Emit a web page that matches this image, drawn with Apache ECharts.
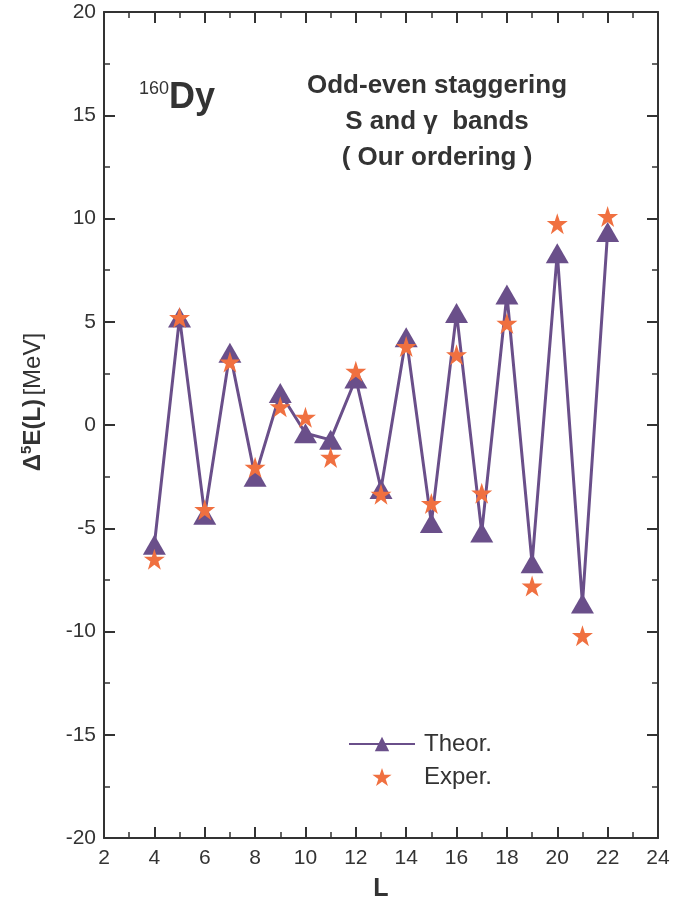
<!DOCTYPE html>
<html><head><meta charset="utf-8">
<script src="https://cdn.jsdelivr.net/npm/echarts@6/dist/echarts.min.js"></script>
<style>html,body{margin:0;padding:0;background:#fff}#c{width:689px;height:901px}</style>
</head><body><div id="c"></div>
<script>
const L = [4,5,6,7,8,9,10,11,12,13,14,15,16,17,18,19,20,21,22];
const theor = [-5.8,5.2,-4.35,3.5,-2.5,1.55,-0.4,-0.72,2.25,-3.1,4.25,-4.75,5.42,-5.2,6.32,-6.7,8.32,-8.65,9.35];
const exper = [-6.5,5.2,-4.1,3.05,-2.05,0.88,0.37,-1.57,2.6,-3.35,3.8,-3.8,3.4,-3.3,4.92,-7.8,9.75,-10.2,10.1];
const xTicks = [2,4,6,8,10,12,14,16,18,20,22,24];
const yTicks = [-20,-15,-10,-5,0,5,10,15,20];

const purple = '#6a4f8a', orange = '#f07040', axisCol = '#333';
const font = '"Liberation Sans", Arial, Helvetica, sans-serif';
const chart = echarts.init(document.getElementById('c'), null, {renderer:'canvas'});

function axisCommon(show){
  return {
    axisLine:{show:true,onZero:false,lineStyle:{color:axisCol,width:2}},
    axisTick:{show:true,inside:true,length:11,lineStyle:{color:axisCol,width:2}},
    minorTick:{show:true,splitNumber:2,length:6,lineStyle:{color:axisCol,width:1.5}},
    splitLine:{show:false},
    axisLabel:{show:show,color:'#333',fontSize:21,fontFamily:font}
  };
}
const xA = (pos,show)=>Object.assign({type:'value',position:pos,min:2,max:24,interval:2},axisCommon(show));
const yA = (pos,show)=>Object.assign({type:'value',position:pos,min:-20,max:20,interval:5},axisCommon(show));

const x0 = xA('bottom',true);
x0.axisLabel.margin = 10;
x0.name = 'L'; x0.nameLocation='middle'; x0.nameGap = 39;
x0.nameTextStyle = {fontSize:25,fontWeight:'bold',color:'#333',fontFamily:font};
const y0 = yA('left',true);
y0.axisLabel.margin = 8;

chart.setOption({
  animation:false,
  grid:{left:104,right:31,top:12,bottom:63,containLabel:false,outerBoundsMode:'none'},
  xAxis:[x0, xA('top',false)],
  yAxis:[y0, yA('right',false)],
  legend:{
    orient:'vertical', left:343, top:727, itemWidth:66, itemHeight:18, itemGap:9,
    textStyle:{fontSize:24,color:'#333',fontFamily:font,padding:[0,0,0,4]},
    data:['Theor.','Exper.']
  },
  graphic:[
    {type:'text',x:33,y:402,rotation:Math.PI/2,style:{align:'center',verticalAlign:'middle',rich:{
      b:{fontSize:24,fontWeight:'bold',fill:'#333',fontFamily:font},
      s:{fontSize:15,fontWeight:'bold',fill:'#333',fontFamily:font,verticalAlign:'top',padding:[0,0,12,0]},
      n:{fontSize:24,fill:'#333',fontFamily:font}},
      text:'{b|Δ}{s|5}{b|E(L)} {n|[MeV]}'}},
    {type:'text',left:139,top:80,style:{rich:{
      a:{fontSize:18,fill:'#333',fontFamily:font,verticalAlign:'top',padding:[0,0,18,0]},
      b:{fontSize:36,fontWeight:'bold',fill:'#333',fontFamily:font}},
      text:'{a|160}{b|Dy}'}},
    {type:'text',x:437,y:86,style:{text:'Odd-even staggering',align:'center',verticalAlign:'middle',fontSize:26,fontWeight:'bold',fill:'#333',fontFamily:font}},
    {type:'text',x:437,y:122,style:{text:'S and γ  bands',align:'center',verticalAlign:'middle',fontSize:26,fontWeight:'bold',fill:'#333',fontFamily:font}},
    {type:'text',x:437,y:158,style:{text:'( Our ordering )',align:'center',verticalAlign:'middle',fontSize:26,fontWeight:'bold',fill:'#333',fontFamily:font}}
  ],
  series:[
    {name:'Theor.',type:'line',data:L.map((l,i)=>[l,theor[i]]),symbol:'triangle',symbolSize:[23,20],
     lineStyle:{color:purple,width:3},itemStyle:{color:purple},z:2},
    {name:'Exper.',type:'scatter',data:L.map((l,i)=>[l,exper[i]]),symbol:'path://M50,0 L61.8,35.4 L100,35.4 L69.1,57.3 L80.9,93.5 L50,71.5 L19.1,93.5 L30.9,57.3 L0,35.4 L38.2,35.4 Z',
     symbolSize:21,itemStyle:{color:orange,opacity:1},z:3}
  ]
});
</script></body></html>
